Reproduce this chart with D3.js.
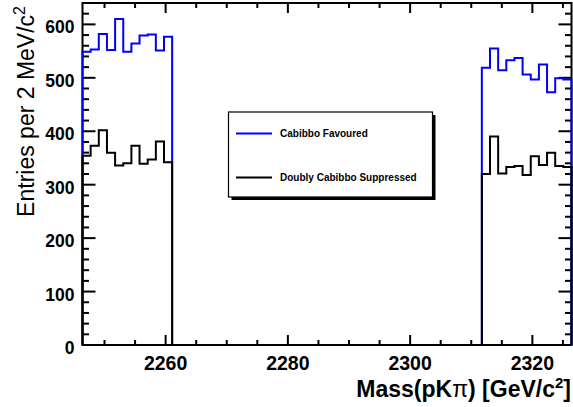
<!DOCTYPE html>
<html>
<head>
<meta charset="utf-8">
<script src="https://cdn.jsdelivr.net/npm/d3@7"></script>
<style>
  html, body { margin: 0; padding: 0; background: #fff; }
  svg { display: block; font-family: "Liberation Sans", Arial, Helvetica, sans-serif; }
</style>
</head>
<body>
<svg id="chart" width="573" height="407"></svg>
<script>
// Invariant-mass histogram: 60 bins of 4/3 MeV between 2246.4 and 2326.4 MeV
const massRange = [2246.4, 2326.4];
const nBins = 60;

// Cabibbo-favoured candidates per bin (signal window removed)
const favoured = [
  549, 553, 582, 552, 610, 549, 564, 579, 581, 551, 577,
  0, 0, 0, 0, 0, 0, 0, 0, 0, 0, 0, 0, 0, 0, 0, 0, 0, 0, 0,
  0, 0, 0, 0, 0, 0, 0, 0, 0, 0, 0, 0, 0, 0, 0, 0, 0, 0, 0,
  519, 555, 514, 533, 537, 506, 497, 525, 473, 499, 497
];

// Doubly Cabibbo-suppressed candidates per bin
const suppressed = [
  354, 373, 402, 360, 336, 340, 373, 339, 347, 381, 342,
  0, 0, 0, 0, 0, 0, 0, 0, 0, 0, 0, 0, 0, 0, 0, 0, 0, 0, 0,
  0, 0, 0, 0, 0, 0, 0, 0, 0, 0, 0, 0, 0, 0, 0, 0, 0, 0, 0,
  320, 390, 321, 333, 335, 318, 353, 337, 360, 335, 333
];

const xTickLabels = [2260, 2280, 2300, 2320];
const yTickLabels = [0, 100, 200, 300, 400, 500, 600];
const legendLabels = ["Cabibbo Favoured", "Doubly Cabibbo Suppressed"];
const seriesColors = ["#0000ff", "#000000"];

const svg = d3.select("#chart");
const frame = { left: 82.5, right: 571.5, top: 3, bottom: 345 };

const x = d3.scaleLinear().domain(massRange).range([frame.left, frame.right]);
const y = d3.scaleLinear().domain([0, 640]).range([frame.bottom, frame.top]);
const binWidth = (massRange[1] - massRange[0]) / nBins;

// ---- frame
svg.append("rect")
  .attr("x", frame.left).attr("y", frame.top)
  .attr("width", frame.right - frame.left).attr("height", frame.bottom - frame.top)
  .attr("fill", "none").attr("stroke", "#000").attr("stroke-width", 2);

// ---- ticks (drawn inward, on all four sides)
const tickG = svg.append("g").attr("stroke", "#000").attr("stroke-width", 2);
const xMinor = d3.range(2250, massRange[1], 5);
xMinor.forEach(v => {
  const major = v % 20 === 0;
  const len = major ? 10 : 5;
  const px = x(v);
  tickG.append("line").attr("x1", px).attr("x2", px)
    .attr("y1", frame.bottom).attr("y2", frame.bottom - len);
  tickG.append("line").attr("x1", px).attr("x2", px)
    .attr("y1", frame.top).attr("y2", frame.top + len);
});
const yMinor = d3.range(0, 640, 20);
yMinor.forEach(v => {
  const major = v % 100 === 0;
  const len = major ? 13 : 6.5;
  const py = y(v);
  tickG.append("line").attr("x1", frame.left).attr("x2", frame.left + len)
    .attr("y1", py).attr("y2", py);
  tickG.append("line").attr("x1", frame.right).attr("x2", frame.right - len)
    .attr("y1", py).attr("y2", py);
});

// ---- tick labels
svg.append("g").selectAll("text").data(xTickLabels).join("text")
  .attr("x", d => x(d)).attr("y", 370)
  .attr("text-anchor", "middle")
  .attr("font-size", 19.5).attr("font-weight", "bold")
  .text(d => d);

svg.append("g").selectAll("text").data(yTickLabels).join("text")
  .attr("x", 74.5).attr("y", d => y(d) + 9)
  .attr("text-anchor", "end")
  .attr("font-size", 17.5).attr("font-weight", "bold")
  .text(d => d);

// ---- axis titles
const yTitle = svg.append("text")
  .attr("transform", "translate(34,6) rotate(-90)")
  .attr("text-anchor", "end")
  .attr("font-size", 23);
yTitle.append("tspan").text("Entries per 2 MeV/c");
yTitle.append("tspan").attr("font-size", 16).attr("dy", -9).text("2");

const xTitle = svg.append("text")
  .attr("x", 571).attr("y", 397)
  .attr("text-anchor", "end")
  .attr("font-size", 23).attr("font-weight", "bold");
xTitle.append("tspan").text("Mass(pK");
xTitle.append("tspan").attr("font-weight", "normal").text("π");
xTitle.append("tspan").text(") [GeV/c");
xTitle.append("tspan").attr("font-size", 15).attr("dy", -9).text("2");
xTitle.append("tspan").attr("dy", 9).text("]");

// ---- histograms as step outlines
function stepPath(values) {
  const pts = [[x(massRange[0]), y(0)]];
  values.forEach((v, i) => {
    const lo = massRange[0] + i * binWidth;
    const hi = lo + binWidth;
    pts.push([x(lo), y(v)], [x(hi), y(v)]);
  });
  pts.push([x(massRange[1]), y(0)]);
  return d3.line()(pts);
}

[favoured, suppressed].forEach((vals, i) => {
  svg.append("path")
    .attr("d", stepPath(vals))
    .attr("fill", "none")
    .attr("stroke", seriesColors[i])
    .attr("stroke-width", 2)
    .attr("stroke-linejoin", "miter");
});

// ---- legend with drop shadow
const leg = { x: 228.5, y: 112, w: 204, h: 85 };
svg.append("rect")
  .attr("x", leg.x + 3).attr("y", leg.y + 3)
  .attr("width", leg.w).attr("height", leg.h)
  .attr("fill", "#000");
svg.append("rect")
  .attr("x", leg.x).attr("y", leg.y)
  .attr("width", leg.w).attr("height", leg.h)
  .attr("fill", "#fff").attr("stroke", "#000").attr("stroke-width", 1.2);

const legendRows = [133.5, 177.5];
legendLabels.forEach((label, i) => {
  svg.append("line")
    .attr("x1", 236).attr("x2", 272)
    .attr("y1", legendRows[i]).attr("y2", legendRows[i])
    .attr("stroke", seriesColors[i]).attr("stroke-width", 2);
  svg.append("text")
    .attr("x", 280).attr("y", legendRows[i] + 3.6)
    .attr("font-size", 10).attr("font-weight", "bold")
    .text(label);
});
</script>
</body>
</html>
